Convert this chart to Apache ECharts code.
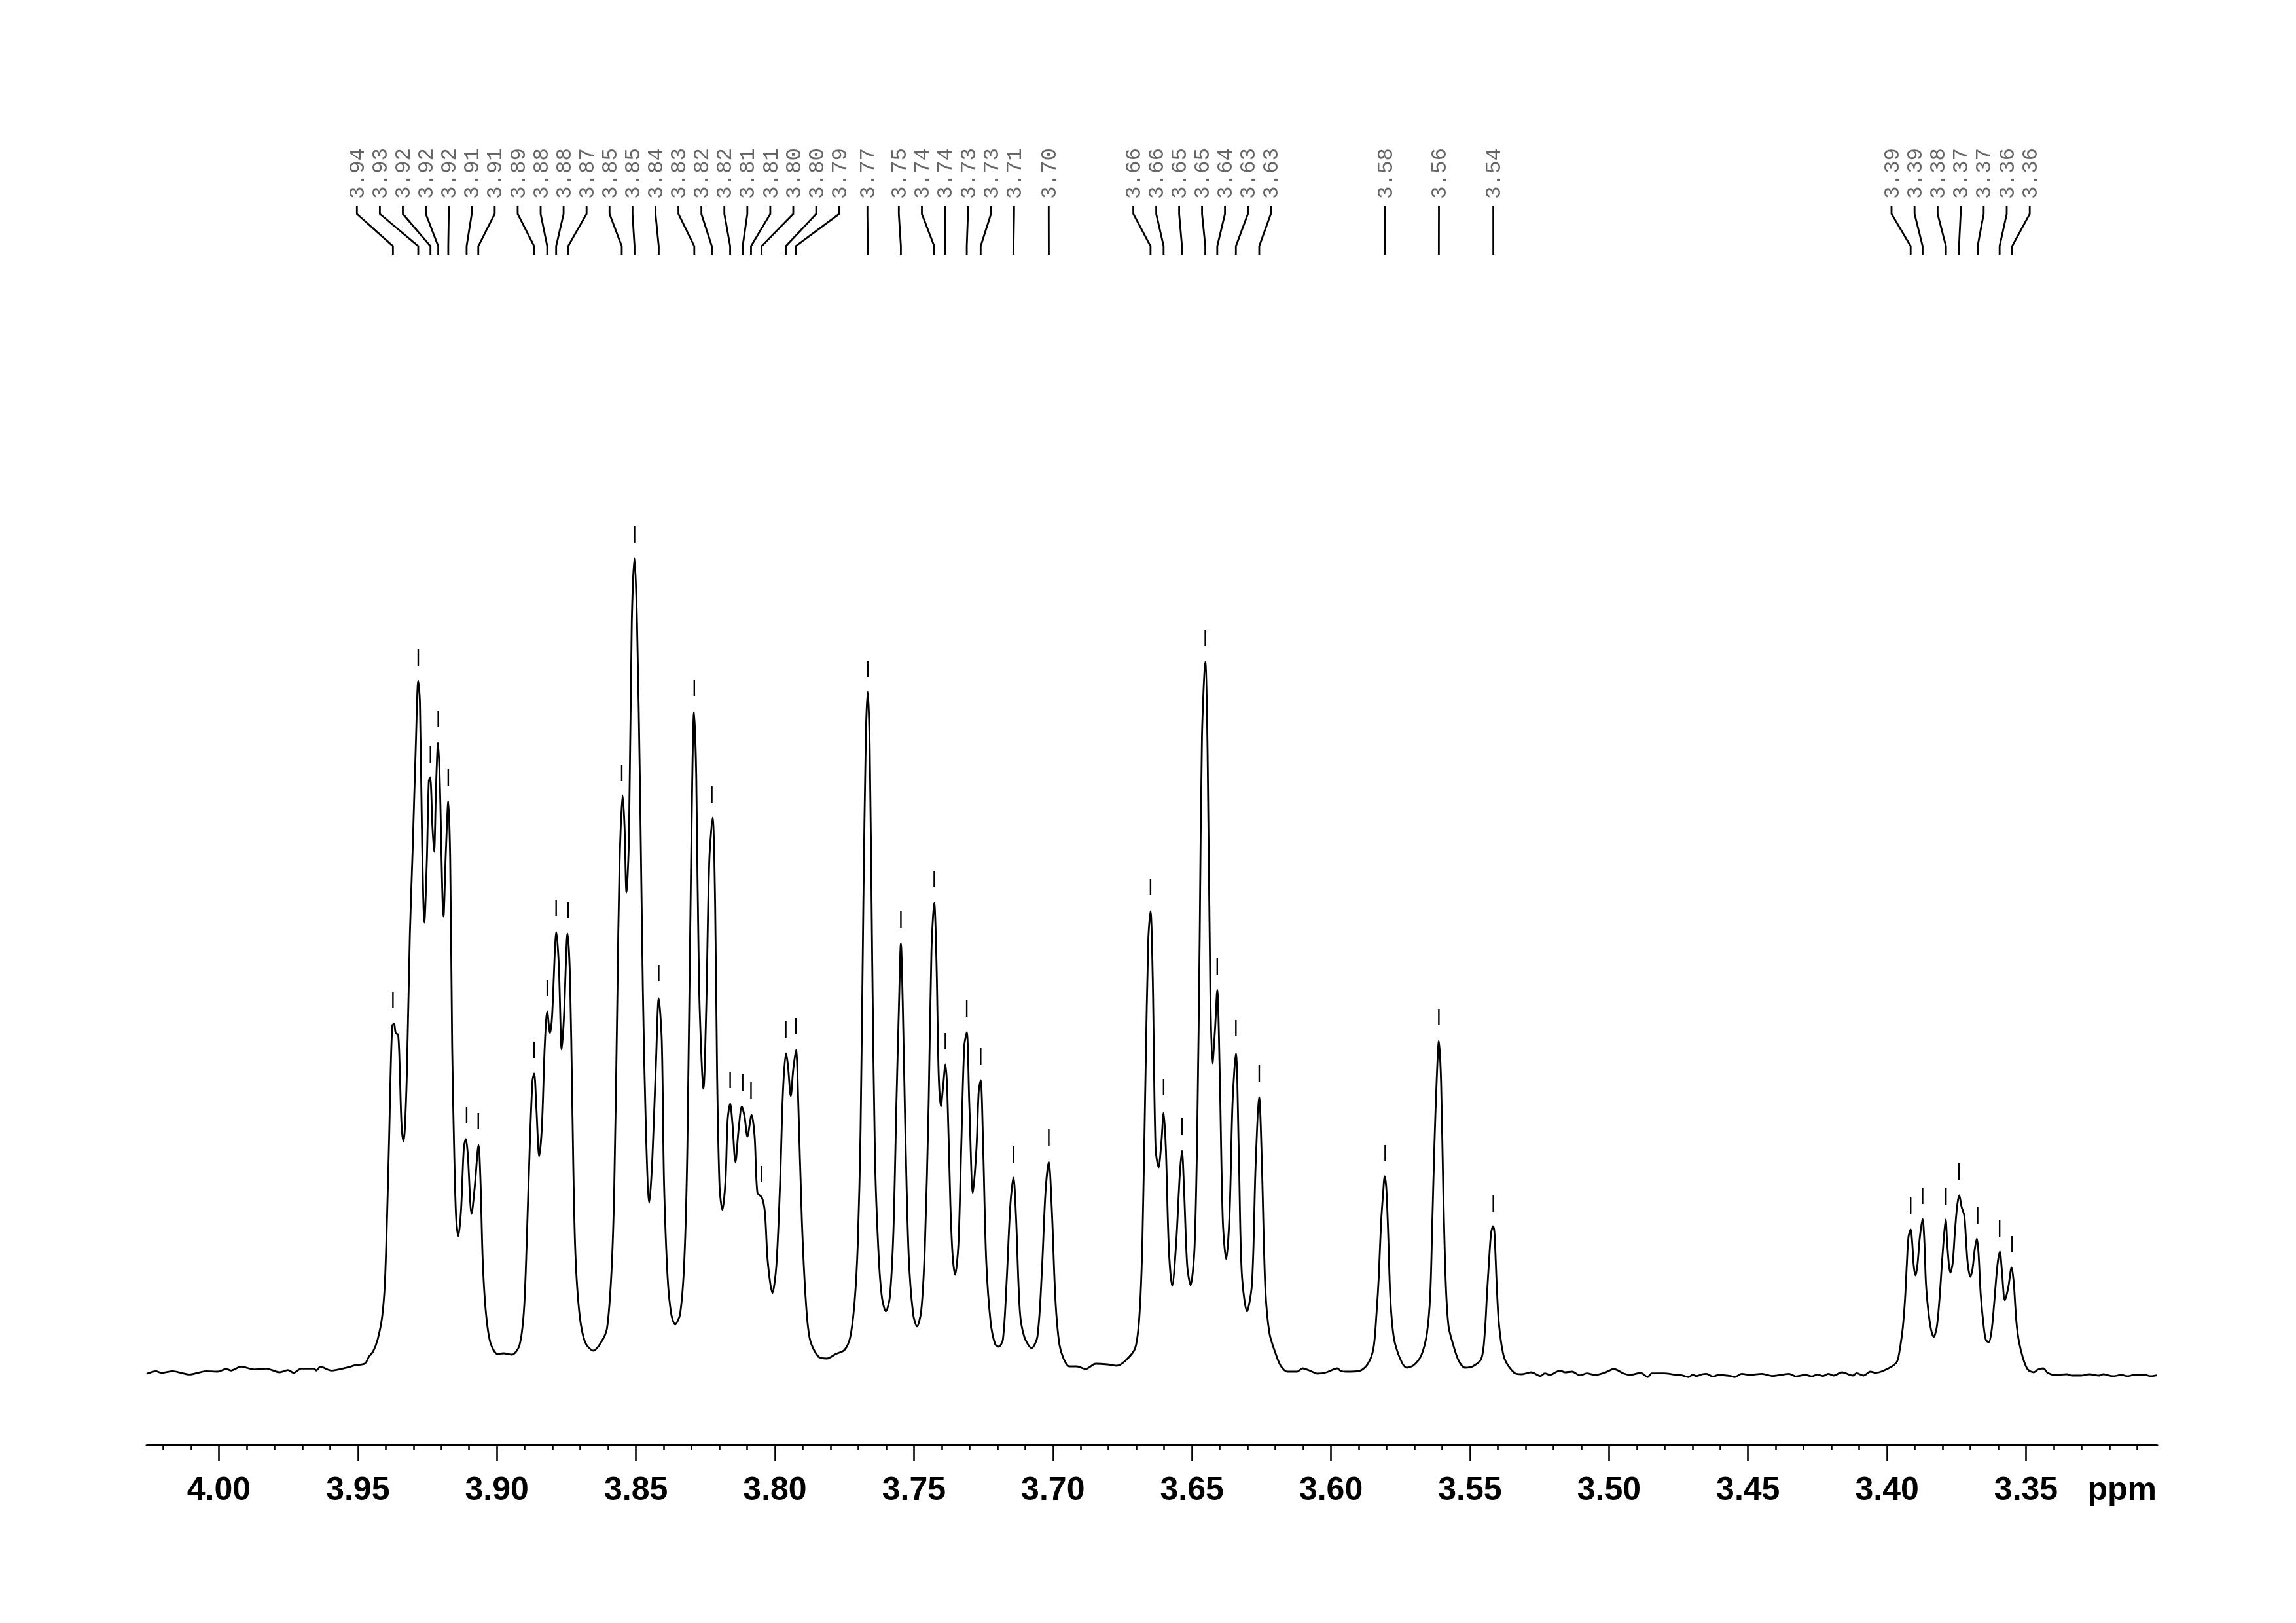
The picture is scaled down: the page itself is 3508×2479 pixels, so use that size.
<!DOCTYPE html>
<html>
<head>
<meta charset="utf-8">
<style>html,body{margin:0;padding:0;background:#fff}#c{width:3508px;height:2479px}</style>
<script src="https://cdn.jsdelivr.net/npm/echarts@6/dist/echarts.min.js"></script>
</head>
<body>
<div id="c"></div>
<script>
// Spectrum trace, [ppm, intensity]
const traceBaselineLeft = [[4.0260,-1.3],[4.0226,2.7],[4.0208,.3],[4.0166,2.7],[4.0106,-2.3],[4.0046,2.7],[4.0004,2],[3.9974,6],[3.9956,3.7],[3.9920,9.7],[3.9872,5.3],[3.9830,6.7],[3.9782,1],[3.9752,4.3],[3.9731,.3],[3.9704,6.7],[3.9658,6.7],[3.9650,3.7],[3.9635,9.3],[3.9595,3.7],[3.9535,8.7],[3.9511,11.7],[3.9475,14.3],[3.9460,25],[3.9445,33]];
const trace394to390 = [[3.9429,51],[3.9413,85],[3.9403,137],[3.9395,240],[3.9387,370],[3.9382,464],[3.9376,531],[3.9370,533],[3.9364,519],[3.9355,516],[3.9349,456],[3.9343,378],[3.9336,354],[3.9331,374],[3.9324,456],[3.9313,671],[3.9303,800],[3.9292,955],[3.9283,1057],[3.9277,1024],[3.9269,809],[3.9261,688],[3.9252,783],[3.9245,904],[3.9240,909],[3.9232,835],[3.9226,796],[3.9219,895],[3.9212,962],[3.9206,912],[3.9192,697],[3.9184,792],[3.9175,873],[3.9168,783],[3.9161,499],[3.9154,344],[3.9147,240],[3.9139,209],[3.9129,249],[3.9119,344],[3.9112,357],[3.9105,335],[3.9091,243],[3.9080,283],[3.9066,348],[3.9059,292],[3.9051,171],[3.9040,94],[3.9024,47],[3.8998,29],[3.8977,30],[3.8946,28]];
const trace389to386 = [[3.8919,42],[3.8903,94],[3.8893,197],[3.8882,344],[3.8872,447],[3.8866,457],[3.8858,404],[3.8848,331],[3.8838,378],[3.8828,499],[3.8819,552],[3.8809,519],[3.8802,542],[3.8786,673],[3.8777,619],[3.8767,494],[3.8759,542],[3.8746,671],[3.8737,602],[3.8729,413],[3.8719,197],[3.8704,94],[3.8683,47],[3.8653,34],[3.8625,47],[3.8604,68]];
const trace385to379 = [[3.8588,154],[3.8578,283],[3.8567,568],[3.8559,774],[3.8548,882],[3.8541,835],[3.8534,734],[3.8525,817],[3.8515,1145],[3.8505,1244],[3.8496,1145],[3.8485,886],[3.8475,585],[3.8464,370],[3.8452,260],[3.8441,327],[3.8428,473],[3.8418,572],[3.8407,507],[3.8399,292],[3.8386,146],[3.8373,90],[3.8359,74],[3.8341,90],[3.8326,171],[3.8315,344],[3.8302,766],[3.8291,1009],[3.8283,912],[3.8273,594],[3.8257,434],[3.8247,559],[3.8236,783],[3.8224,848],[3.8215,714],[3.8208,456],[3.8199,283],[3.8189,249],[3.8178,292],[3.8170,387],[3.8161,411],[3.8153,382],[3.8142,322],[3.8131,370],[3.8119,407],[3.8109,391],[3.8099,361],[3.8084,394],[3.8073,361],[3.8063,275],[3.8047,268],[3.8036,245],[3.8026,171],[3.8009,122],[3.7995,163],[3.7982,283],[3.7971,430],[3.7960,488],[3.7953,469],[3.7943,423],[3.7934,464],[3.7924,493],[3.7916,413],[3.7903,232],[3.7889,111],[3.7874,51],[3.7844,25],[3.7813,22],[3.7781,29],[3.7750,35]];
const trace377to370 = [[3.7729,55],[3.7713,111],[3.7702,197],[3.7692,370],[3.7682,714],[3.7673,972],[3.7666,1040],[3.7659,955],[3.7650,628],[3.7640,327],[3.7627,180],[3.7615,115],[3.7601,94],[3.7587,115],[3.7574,214],[3.7563,413],[3.7554,559],[3.7547,656],[3.7540,559],[3.7531,370],[3.7519,180],[3.7503,90],[3.7489,71],[3.7474,94],[3.7461,189],[3.7447,413],[3.7437,645],[3.7427,718],[3.7419,628],[3.7411,456],[3.7403,407],[3.7395,438],[3.7387,471],[3.7380,430],[3.7369,258],[3.7361,180],[3.7352,150],[3.7340,197],[3.7330,344],[3.7319,499],[3.7310,520],[3.7301,413],[3.7288,275],[3.7275,344],[3.7267,430],[3.7260,447],[3.7251,344],[3.7240,171],[3.7224,77],[3.7208,44],[3.7195,40],[3.7180,51],[3.7167,137],[3.7153,258],[3.7142,298],[3.7133,240],[3.7119,94],[3.7103,55],[3.7077,38],[3.7056,55],[3.7040,154],[3.7027,275],[3.7015,322],[3.7004,249],[3.6991,111],[3.6977,44],[3.6961,21],[3.6941,10],[3.6914,10],[3.6883,6],[3.6846,14],[3.6804,13],[3.6772,11],[3.6741,18]];
const trace366to362 = [[3.6704,38],[3.6688,94],[3.6678,206],[3.6667,456],[3.6657,662],[3.6649,705],[3.6641,602],[3.6631,344],[3.6620,314],[3.6610,352],[3.6602,397],[3.6594,344],[3.6583,189],[3.6571,133],[3.6557,197],[3.6544,301],[3.6536,339],[3.6528,275],[3.6517,163],[3.6505,134],[3.6491,189],[3.6481,370],[3.6472,671],[3.6464,972],[3.6452,1086],[3.6444,955],[3.6434,585],[3.6426,473],[3.6417,525],[3.6409,585],[3.6400,456],[3.6389,232],[3.6377,174],[3.6365,240],[3.6354,413],[3.6342,488],[3.6331,327],[3.6321,154],[3.6302,94],[3.6284,137],[3.6271,318],[3.6258,421],[3.6249,327],[3.6236,128],[3.6221,60],[3.6197,27],[3.6181,11]];
const trace358to354 = [[3.6157,2],[3.6122,2],[3.6102,7],[3.6079,4],[3.6048,-1],[3.6016,1],[3.5977,7],[3.5965,3],[3.5946,2],[3.5898,3],[3.5867,14],[3.5847,38],[3.5836,92],[3.5828,147],[3.5820,228],[3.5812,277],[3.5807,300],[3.5801,282],[3.5795,222],[3.5787,119],[3.5779,71],[3.5769,44],[3.5745,16],[3.5727,8],[3.5702,12],[3.5675,27],[3.5655,60],[3.5643,119],[3.5636,222],[3.5628,347],[3.5620,445],[3.5612,507],[3.5604,445],[3.5596,277],[3.5587,136],[3.5577,71],[3.5561,44],[3.5541,19],[3.5518,8],[3.5490,10],[3.5459,22],[3.5447,60],[3.5439,119],[3.5431,174],[3.5424,214],[3.5417,224],[3.5412,214],[3.5404,136],[3.5395,71],[3.5376,22]];
const traceBaselineMid = [[3.5341,.3],[3.5314,-2],[3.5280,1],[3.5246,-4.7],[3.5231,-.7],[3.5212,-3],[3.5177,3.7],[3.5158,1],[3.5133,2],[3.5104,-3.7],[3.5080,-.7],[3.5050,-3],[3.5016,.3],[3.4982,6],[3.4948,-.7],[3.4924,-3],[3.4885,0],[3.4861,-6.3],[3.4846,-.7],[3.4802,-.7],[3.4768,-2.3],[3.4738,-3.7],[3.4714,-6.3],[3.4699,-3],[3.4685,-4.7],[3.4665,-2],[3.4650,-1.3],[3.4626,-5.7],[3.4606,-3],[3.4563,-4.7],[3.4548,-6.3],[3.4523,-1.3],[3.4494,-3],[3.4450,-1.3],[3.4411,-4.7],[3.4353,-1.3],[3.4328,-5.3],[3.4294,-3],[3.4270,-5.3],[3.4250,-2.3],[3.4231,-4.7],[3.4211,-1.3],[3.4192,-4],[3.4162,1],[3.4123,-4],[3.4109,-.3],[3.4084,-4],[3.4060,2],[3.4040,.3],[3.4021,2],[3.3987,8.7],[3.3967,15.3],[3.3960,22]];
const trace339to335 = [[3.3951,44],[3.3943,70],[3.3935,114],[3.3929,164],[3.3923,207],[3.3915,219],[3.3909,197],[3.3904,164],[3.3897,149],[3.3890,167],[3.3882,207],[3.3872,235],[3.3866,204],[3.3860,137],[3.3852,97],[3.3842,67],[3.3832,55],[3.3821,70],[3.3811,114],[3.3803,164],[3.3795,210],[3.3789,234],[3.3783,194],[3.3772,153],[3.3764,167],[3.3756,214],[3.3748,254],[3.3740,271],[3.3732,254],[3.3722,240],[3.3715,197],[3.3709,164],[3.3700,147],[3.3692,160],[3.3685,187],[3.3677,205],[3.3671,184],[3.3663,120],[3.3652,70],[3.3644,50],[3.3634,47],[3.3624,64],[3.3615,104],[3.3603,164],[3.3594,185],[3.3587,157],[3.3576,111],[3.3564,130],[3.3552,161],[3.3544,137],[3.3535,80],[3.3525,47],[3.3509,20],[3.3493,5]];
const traceBaselineRight = [[3.3472,1],[3.3458,5],[3.3438,7],[3.3422,0],[3.3395,-3],[3.3352,-2],[3.3336,-4],[3.3301,-4],[3.3273,-2],[3.3237,-4],[3.3222,-2],[3.3187,-5],[3.3156,-3],[3.3136,-5],[3.3109,-3],[3.3073,-3],[3.3051,-5],[3.3030,-3.7]];

// Picked peaks
const pickPpm = [3.9374,3.9283,3.9239,3.9211,3.9175,3.9109,3.9067,3.8866,3.8819,3.8787,3.8744,3.8551,3.8505,3.8418,3.8290,3.8227,3.8161,3.8116,3.8086,3.8048,3.7961,3.7925,3.7666,3.7547,3.7427,3.7387,3.7310,3.7260,3.7142,3.7015,3.6649,3.6602,3.6536,3.6452,3.6409,3.6342,3.6258,3.5805,3.5612,3.5416,3.3915,3.3872,3.3788,3.3741,3.3674,3.3595,3.3550];
const pickLabels = ["3.94","3.93","3.92","3.92","3.92","3.91","3.91","3.89","3.88","3.88","3.87","3.85","3.85","3.84","3.83","3.82","3.82","3.81","3.81","3.80","3.80","3.79","3.77","3.75","3.74","3.74","3.73","3.73","3.71","3.70","3.66","3.66","3.65","3.65","3.64","3.63","3.63","3.58","3.56","3.54","3.39","3.39","3.38","3.37","3.37","3.36","3.36"];
const pickMarkHeight = [557,1080,932,986,897,381,372,481,575,698,695,904,1268,598,1034,871,435,431,419,291,512,517,1063,680,742,494,544,471,321,347,730,424,364,1110,608,514,445,323,531,246,243,258,257,295,228,208,184];

// Axis ticks
const majorTicks = [4.00,3.95,3.90,3.85,3.80,3.75,3.70,3.65,3.60,3.55,3.50,3.45,3.40,3.35];
const minorTicks = [4.02,4.01,3.99,3.98,3.97,3.96,3.94,3.93,3.92,3.91,3.89,3.88,3.87,3.86,3.84,3.83,3.82,3.81,3.79,3.78,3.77,3.76,3.74,3.73,3.72,3.71,3.69,3.68,3.67,3.66,3.64,3.63,3.62,3.61,3.59,3.58,3.57,3.56,3.54,3.53,3.52,3.51,3.49,3.48,3.47,3.46,3.44,3.43,3.42,3.41,3.39,3.38,3.37,3.36,3.34,3.33,3.32,3.31];
const axisUnit = "ppm";

// Layout of the label column (page pixels), kept apart from the data
const labelColumns = [[545.3,35.09,22],[1325.3,0,1],[1373.3,35.2,6],[1602.3,0,1],[1731.6,35,7],[2116.3,0,1],[2198.5,0,1],[2281.6,0,1],[2890,35.2,7]];
const labelX = [];
labelColumns.forEach(function (c) { for (let i = 0; i < c[2]; i++) labelX.push(c[0] + c[1] * i); });

const spectrum = [].concat(traceBaselineLeft, trace394to390, trace389to386, trace385to379, trace377to370, trace366to362, trace358to354, traceBaselineMid, trace339to335, traceBaselineRight);
const pickRows = pickPpm.map(function (p, i) { return [p, pickMarkHeight[i], i]; });

const chart = echarts.init(document.getElementById('c'), null, { renderer: 'canvas', devicePixelRatio: 1 });
const black = '#000';
const axisFont = { fontFamily: '"Liberation Sans"', fontWeight: 'bold', fontSize: 50, color: black };

function renderPick(params, api) {
  const i = api.value(2);
  const base = api.coord([api.value(0), api.value(1)]);
  const px = base[0];
  const lx = labelX[i];
  return {
    type: 'group',
    children: [
      { type: 'line', shape: { x1: px, y1: base[1], x2: px, y2: base[1] - 25 }, style: { stroke: black, lineWidth: 2.4 } },
      { type: 'polyline', shape: { points: [[lx, 314], [lx, 326.7], [px, 376], [px, 389]] }, style: { fill: null, stroke: black, lineWidth: 2.8 } },
      { type: 'text', x: lx + 2, y: 304, rotation: Math.PI / 2, style: { text: pickLabels[i], fill: '#666', font: '32.5px "Liberation Mono"', textAlign: 'left', textVerticalAlign: 'middle' } }
    ]
  };
}

const sharedX = { type: 'value', position: 'bottom', inverse: true, min: 3.3028, max: 4.026, splitLine: { show: false } };

chart.setOption({
  backgroundColor: '#fff',
  animation: false,
  grid: { left: 224, right: 212, top: 100, bottom: 272 },
  xAxis: [
    Object.assign({}, sharedX, {
      axisLine: { show: true, onZero: false, lineStyle: { color: black, width: 3 } },
      axisTick: { show: true, length: 25, customValues: majorTicks, lineStyle: { color: black, width: 2.6 } },
      axisLabel: Object.assign({ show: true, customValues: majorTicks, margin: 45, formatter: function (v) { return v.toFixed(2); } }, axisFont),
      name: axisUnit, nameLocation: 'start', nameGap: 0,
      nameTextStyle: Object.assign({ align: 'right', verticalAlign: 'top', padding: [45, 1, 0, 0] }, axisFont)
    }),
    Object.assign({}, sharedX, {
      axisLine: { show: false, onZero: false },
      axisTick: { show: true, length: 8, customValues: minorTicks, lineStyle: { color: black, width: 2.6 } },
      axisLabel: { show: false }
    })
  ],
  yAxis: { type: 'value', min: -110, max: 1997, show: false },
  series: [
    { type: 'line', xAxisIndex: 0, data: spectrum, showSymbol: false, smooth: 0.3, sampling: false, lineStyle: { color: black, width: 2.8 }, silent: true },
    { type: 'custom', xAxisIndex: 0, data: pickRows, encode: { x: 0, y: 1 }, renderItem: renderPick, silent: true }
  ]
});
</script>
</body>
</html>
